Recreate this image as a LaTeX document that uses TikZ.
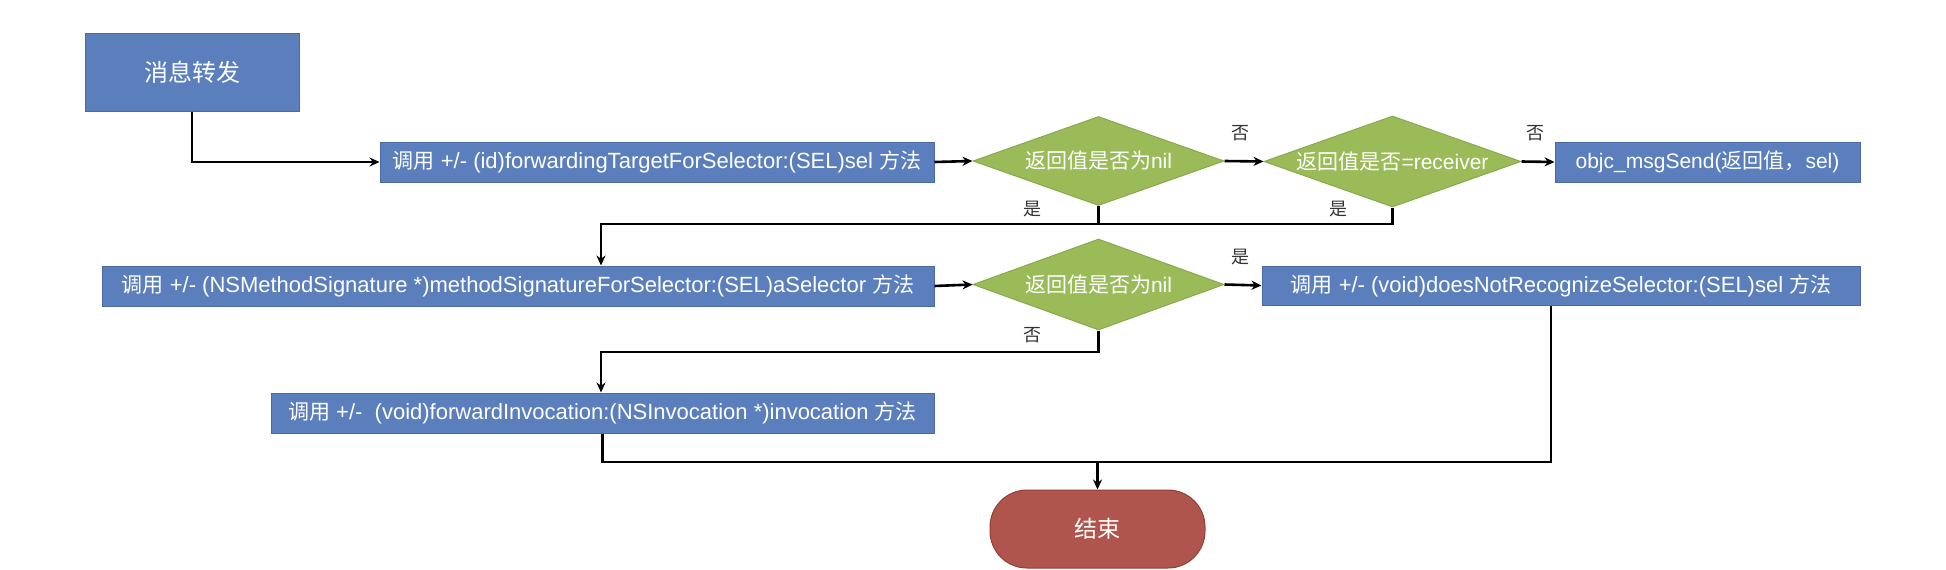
\documentclass[tikz,border=0pt]{standalone}
\usepackage{fontspec}
\setmainfont{Liberation Sans}
\newfontfamily\cjk{Noto Sans CJK SC}
\usetikzlibrary{shapes.geometric,arrows.meta,calc}
\definecolor{boxblue}{HTML}{5B7FBD}
\definecolor{boxblueline}{HTML}{4A6AA2}
\definecolor{dgreen}{HTML}{9BBB59}
\definecolor{dgreenline}{HTML}{8AA84C}
\definecolor{endred}{HTML}{B0554E}
\definecolor{endredline}{HTML}{8F3E38}
\begin{document}
\begin{tikzpicture}[x=1pt,y=-1pt,
  procbox/.style={draw=boxblueline,line width=1pt,fill=boxblue,text=white,inner sep=0pt,
    font=\fontsize{22}{26}\selectfont},
  decis/.style={diamond,draw=dgreenline,line width=1pt,fill=dgreen,text=white,inner sep=0pt,
    font=\fontsize{21}{25}\selectfont},
  arr/.style={line width=2.6pt,-{Stealth[length=10pt,width=9pt]}},
  conn/.style={line width=2.6pt},
  lbl/.style={font=\cjk\fontsize{18}{20}\selectfont,text=black!80,inner sep=0pt}]
\useasboundingbox (0,0) rectangle (1946,570);
% nodes
\node[procbox,minimum width=214pt,minimum height=78pt,font=\cjk\fontsize{24}{28}\selectfont] (start) at (192,72) {消息转发};
\node[procbox,minimum width=554pt,minimum height=40pt] (b1) at (657,162)
  {{\cjk\fontsize{21}{25}\selectfont 调用} +/- (id)forwardingTargetForSelector:(SEL)sel {\cjk\fontsize{21}{25}\selectfont 方法}};
\node[decis,minimum width=251pt,minimum height=89pt,aspect=2.82] (d1) at (1098.5,161)
  {{\cjk 返回值是否为}nil};
\node[decis,minimum width=257pt,minimum height=91pt,aspect=2.82] (d2) at (1392.5,161.5)
  {{\cjk 返回值是否}=receiver};
\node[procbox,minimum width=305pt,minimum height=40pt,font=\fontsize{21}{25}\selectfont] (objc) at (1707.5,162)
  {objc\_msgSend({\cjk 返回值，}sel)};
\node[procbox,minimum width=832pt,minimum height=40pt] (b2) at (518,286)
  {{\cjk\fontsize{21}{25}\selectfont 调用} +/- (NSMethodSignature *)methodSignatureForSelector:(SEL)aSelector {\cjk\fontsize{21}{25}\selectfont 方法}};
\node[decis,minimum width=251pt,minimum height=91pt,aspect=2.76] (d3) at (1098.5,284.5)
  {{\cjk 返回值是否为}nil};
\node[procbox,minimum width=598pt,minimum height=39pt] (b3) at (1561,285.5)
  {{\cjk\fontsize{21}{25}\selectfont 调用} +/- (void)doesNotRecognizeSelector:(SEL)sel {\cjk\fontsize{21}{25}\selectfont 方法}};
\node[procbox,minimum width=663pt,minimum height=40pt] (b4) at (602.5,413)
  {{\cjk\fontsize{21}{25}\selectfont 调用} +/-\ \ (void)forwardInvocation:(NSInvocation *)invocation {\cjk\fontsize{21}{25}\selectfont 方法}};
\node[draw=endredline,line width=1pt,fill=endred,text=white,rounded corners=37pt,
  minimum width=215pt,minimum height=78pt,inner sep=0pt,
  font=\cjk\fontsize{23}{27}\selectfont] (end) at (1097.5,529) {结束};
% labels
\node[lbl] (n1) at (1240,133) {否};
\node[lbl] (n2) at (1535,133) {否};
\node[lbl] (y1) at (1032,209) {是};
\node[lbl] (y2) at (1338,209) {是};
\node[lbl] (y3) at (1240,257) {是};
\node[lbl] (n3) at (1032,335) {否};
% junctions
\coordinate (j1) at (601,224);
\coordinate (j2) at (601,352);
\coordinate (j3) at (1097.5,462);
\coordinate (b3o) at ([xshift=-10pt]b3.south);
% connectors
\draw[arr] (start.south) |- (b1.west);
\draw[arr] (b1.east) -- (d1.west);
\draw[arr] (d1.east) -- (d2.west);
\draw[arr] (d2.east) -- (objc.west);
\draw[conn] (d1.south) -- (d1.south |- j1);
\draw[arr] (d2.south) |- (j1) -- (j1 |- b2.north);
\draw[arr] (b2.east) -- (d3.west);
\draw[arr] (d3.east) -- (b3.west);
\draw[arr] (d3.south) |- (j2) -- (j2 |- b4.north);
\draw[conn] (b4.south) |- (j3);
\draw[conn] (b3o) |- (j3);
\draw[arr] (j3) -- (end.north);
\end{tikzpicture}
\end{document}
